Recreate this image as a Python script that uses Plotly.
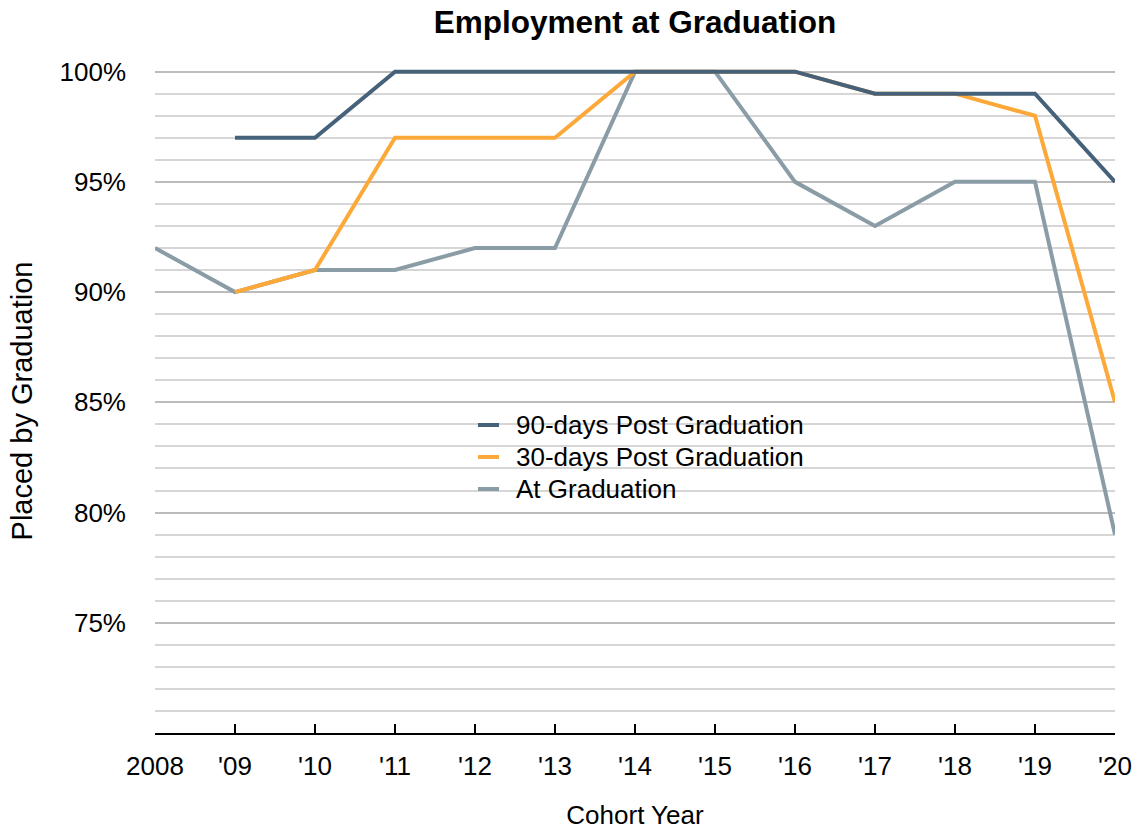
import plotly.graph_objects as go

# Cohort years and tick labels
years = [2008, 2009, 2010, 2011, 2012, 2013, 2014, 2015, 2016, 2017, 2018, 2019, 2020]
year_labels = ["2008", "'09", "'10", "'11", "'12", "'13", "'14", "'15", "'16", "'17", "'18", "'19", "'20"]

# Placement rates (%) per cohort; None where no data
days90 = [None, 97, 97, 100, 100, 100, 100, 100, 100, 99, 99, 99, 95]
days30 = [None, 90, 91, 97, 97, 97, 100, 100, 100, 99, 99, 98, 85]
at_grad = [92, 90, 91, 91, 92, 92, 100, 100, 95, 93, 95, 95, 79]

y_ticks = [75, 80, 85, 90, 95, 100]
y_labels = ["75%", "80%", "85%", "90%", "95%", "100%"]

series_names = ["90-days Post Graduation", "30-days Post Graduation", "At Graduation"]
series_colors = ["#46617a", "#fca93a", "#8a9ca5"]

FONT = "Liberation Sans, Arial, Helvetica, sans-serif"
LINE_W = 4

W, H = 1137, 830
M_L, M_R, M_T, M_B = 155, 22, 69, 97
PLOT_W = W - M_L - M_R
PLOT_H = H - M_T - M_B


def px_x(px):
    return (px - M_L) / PLOT_W


def px_y(py):
    return (H - M_B - py) / PLOT_H


fig = go.Figure()
# Draw order: grey underneath, then orange, then dark blue on top
for name, vals, color in reversed(list(zip(series_names, [days90, days30, at_grad], series_colors))):
    fig.add_trace(go.Scatter(x=years, y=vals, mode="lines", name=name,
                             line=dict(color=color, width=LINE_W), showlegend=False))

# Legend panel: white box over the gridlines, short line swatches and labels
shapes = [dict(type="rect", xref="paper", yref="paper", layer="between",
               x0=px_x(463), x1=px_x(828), y0=px_y(507), y1=px_y(405),
               fillcolor="white", line=dict(width=0))]
annotations = []
row_y = [425, 457, 489]
for name, color, ry in zip(series_names, series_colors, row_y):
    shapes.append(dict(type="line", xref="paper", yref="paper", layer="above",
                       x0=px_x(478), x1=px_x(499), y0=px_y(ry), y1=px_y(ry),
                       line=dict(color=color, width=LINE_W)))
    annotations.append(dict(text=name, xref="paper", yref="paper",
                            x=px_x(514), y=px_y(ry), xanchor="left", yanchor="middle",
                            showarrow=False, font=dict(size=26, family=FONT, color="#000000")))

fig.update_layout(
    width=W, height=H,
    margin=dict(l=M_L, r=M_R, t=M_T, b=M_B),
    paper_bgcolor="white", plot_bgcolor="white",
    font=dict(family=FONT, size=26, color="#000000"),
    title=dict(text="<b>Employment at Graduation</b>", x=0.5585, xanchor="center",
               y=0.973, yanchor="middle", font=dict(size=31.5, family=FONT)),
    showlegend=False,
    shapes=shapes,
    annotations=annotations,
    xaxis=dict(
        range=[2008, 2020], tickvals=years, ticktext=year_labels,
        showgrid=False, zeroline=False, automargin=False,
        showline=True, linecolor="#000000", linewidth=2,
        ticks="inside", ticklen=9, tickwidth=2, tickcolor="#000000",
        ticklabelstandoff=9,
        title=dict(text="Cohort Year", standoff=26, font=dict(size=26)),
    ),
    yaxis=dict(
        range=[70, 100.12], tickvals=y_ticks, ticktext=y_labels,
        showgrid=True, gridcolor="#bcbcbc", gridwidth=1.5,
        zeroline=False, showline=False, ticks="", automargin=False,
        ticklabelstandoff=28,
        minor=dict(tick0=70, dtick=1, showgrid=True, gridcolor="#d6d6d6", gridwidth=1.5),
        title=dict(text="Placed by Graduation", standoff=18, font=dict(size=29)),
    ),
)

fig.write_html("out.html")
